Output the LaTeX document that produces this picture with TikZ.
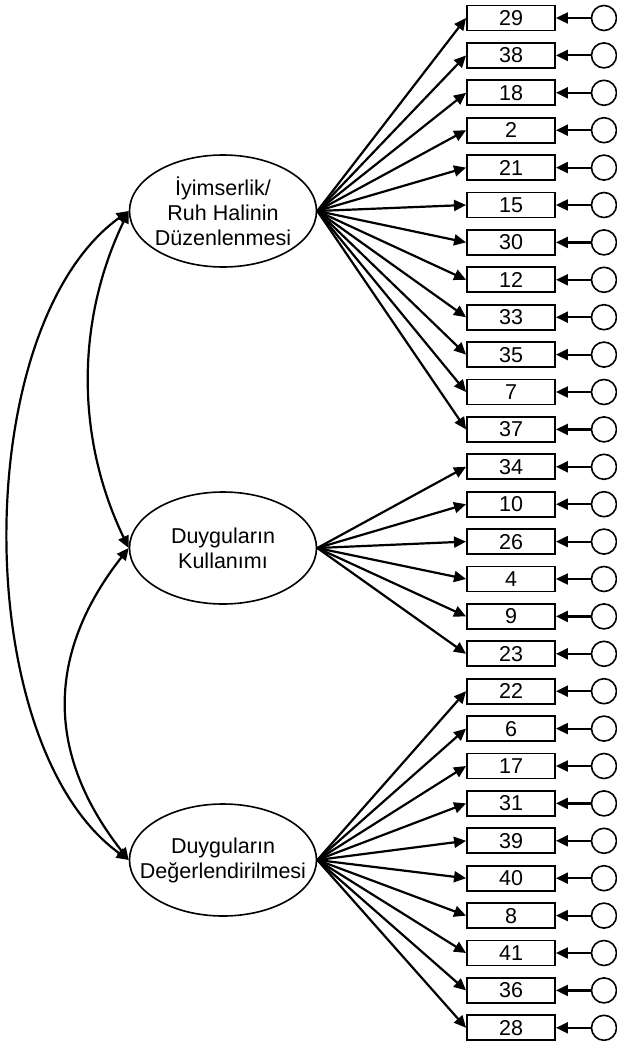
\documentclass[tikz,border=0pt]{standalone}
\usepackage{fontspec}
\setmainfont{Liberation Sans}
\usetikzlibrary{shapes.geometric,arrows.meta}
\newcommand{\satir}[1]{\makebox[0pt]{#1}}
\begin{document}
\begin{tikzpicture}[x=1pt,y=1pt,
	ind/.style={draw, line width=1.9pt, minimum width=88pt, minimum height=25pt, inner sep=0pt, font=\fontsize{21.5}{25}\selectfont},
	err/.style={draw, circle, line width=1.6pt, minimum size=25pt, inner sep=0pt},
	lat/.style={draw, ellipse, line width=1.6pt, minimum width=187pt, minimum height=112pt, inner sep=0pt, align=center, font=\fontsize{21.5}{25}\selectfont},
	arr/.style={line width=2.2pt, -{Triangle[length=12pt,width=11pt]}},
	cov/.style={line width=2.2pt, {Triangle[length=12pt,width=11pt]}-{Triangle[length=12pt,width=11pt]}}]
	\useasboundingbox (0,0) rectangle (617,-1041);
	%items
	\foreach \n [count=\i from 0] in {29,38,18,2,21,15,30,12,33,35,7,37,34,10,26,4,9,23,22,6,17,31,39,40,8,41,36,28} {
		\node[ind] (b\i) at (511,{-18-37.4*\i}) {\n};
		\node[err] (c\i) at (604,{-18-37.4*\i}) {};
		\draw[arr] (c\i) -- (b\i);
	}
	%factors
	\node[lat] (f1) at (223,-211) {\satir{İyimserlik/}\\\satir{Ruh Halinin}\\\satir{Düzenlenmesi}};
	\node[lat] (f2) at (223,-548) {\satir{Duyguların}\\\satir{Kullanımı}};
	\node[lat] (f3) at (223,-860) {\satir{Duyguların}\\\satir{Değerlendirilmesi}};
	%loadings
	\foreach \i in {0,...,11} \draw[arr] (f1.east) -- (b\i.west);
	\foreach \i in {12,...,17} \draw[arr] (f2.east) -- (b\i.west);
	\foreach \i in {18,...,27} \draw[arr] (f3.east) -- (b\i.west);
	%covariances
	\draw[cov] (f1.west) .. controls +(-53,-110) and +(-53,110) .. (f2.west);
	\draw[cov] (f1.west) .. controls +(-160,-115) and +(-160,115) .. (f3.west);
	\draw[cov] (f2.west) .. controls +(-83,-106) and +(-83,106) .. (f3.west);
\end{tikzpicture}
\end{document}
